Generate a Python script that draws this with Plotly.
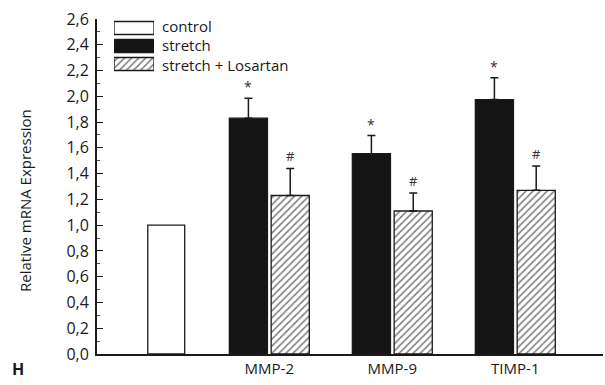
import plotly.graph_objects as go

# Relative mRNA expression data
genes = ["MMP-2", "MMP-9", "TIMP-1"]
gene_pos = [1, 2, 3]
control_pos = [0.162]
control_val = [1.0]
stretch_val = [1.83, 1.555, 1.975]
stretch_err = [0.155, 0.14, 0.17]
losartan_val = [1.23, 1.11, 1.27]
losartan_err = [0.21, 0.14, 0.19]
legend_names = ["control", "stretch", "stretch + Losartan"]
y_ticks = [0.0, 0.2, 0.4, 0.6, 0.8, 1.0, 1.2, 1.4, 1.6, 1.8, 2.0, 2.2, 2.4, 2.6]

FONT = "Open Sans"
BAR_W = 0.31
LINE = dict(color="#1a1a1a", width=1.3)
HATCH = dict(shape="/", fgcolor="#000000", bgcolor="white", size=5, solidity=0.32)
ERR = dict(type="data", symmetric=False, thickness=1.5, width=4, color="#1a1a1a")

fig = go.Figure()

fig.add_trace(go.Bar(
    x=control_pos, y=control_val, width=0.30,
    marker=dict(color="white", line=LINE), showlegend=False,
))
fig.add_trace(go.Bar(
    x=gene_pos, y=stretch_val, width=BAR_W, offset=-0.325,
    marker=dict(color="#141414", line=LINE), showlegend=False,
    error_y=dict(array=stretch_err, arrayminus=[0] * 3, **ERR),
))
fig.add_trace(go.Bar(
    x=gene_pos, y=losartan_val, width=BAR_W, offset=0.015,
    marker=dict(color="white", line=LINE, pattern=HATCH), showlegend=False,
    error_y=dict(array=losartan_err, arrayminus=[0] * 3, **ERR),
))

# significance markers above error bars
for i, g in enumerate(gene_pos):
    fig.add_annotation(x=g - 0.325 + BAR_W / 2, y=stretch_val[i] + stretch_err[i],
                       text="*", showarrow=False, yanchor="bottom", yshift=0,
                       font=dict(family=FONT, size=14, color="#333"))
    fig.add_annotation(x=g + 0.015 + BAR_W / 2, y=losartan_val[i] + losartan_err[i],
                       text="#", showarrow=False, yanchor="bottom", yshift=1,
                       font=dict(family=FONT, size=13, color="#333"))

# legend swatches drawn on an inset axis
for i, (name, fill, patt) in enumerate(zip(legend_names,
                                           ["white", "#141414", "white"],
                                           [None, None, HATCH])):
    marker = dict(color=fill, line=LINE)
    if patt:
        marker["pattern"] = patt
    fig.add_trace(go.Bar(
        y=[i], x=[1], base=0, orientation="h", width=0.72, xaxis="x2", yaxis="y2",
        marker=marker, showlegend=False,
    ))

legend_y = [0.979, 0.922, 0.863]
for name, ly in zip(legend_names, legend_y):
    fig.add_annotation(x=(160 - 97) / 506, y=ly, xref="paper", yref="paper",
                       text=name, showarrow=False, xanchor="left", yanchor="middle",
                       font=dict(family=FONT, size=15, color="#1a1a1a"))

# y-axis title
fig.add_annotation(x=(25 - 97) / 506, y=(354 - 201) / 335, xref="paper", yref="paper",
                   text="Relative mRNA Expression", textangle=-90, showarrow=False,
                   xanchor="center", yanchor="middle",
                   font=dict(family=FONT, size=15, color="#1a1a1a"))

# panel letter
fig.add_annotation(x=-0.172, y=0.0, xref="paper", yref="paper", text="<b>H</b>",
                   showarrow=False, xanchor="left", yanchor="top", yshift=-2,
                   font=dict(family=FONT, size=16, color="#1a1a1a"))

fig.update_layout(
    width=605, height=385,
    margin=dict(l=97, r=2, t=19, b=31),
    paper_bgcolor="white", plot_bgcolor="white",
    barmode="overlay", separators=",.",
    font=dict(family=FONT, color="#1a1a1a"),
    xaxis=dict(
        range=[-0.401, 3.713], tickvals=gene_pos, ticktext=genes,
        ticks="", showgrid=False, zeroline=False,
        showline=True, linecolor="#1a1a1a", linewidth=1.5,
        tickfont=dict(size=15, family=FONT, color="#1a1a1a"),
    ),
    yaxis=dict(
        range=[0, 2.6], tickvals=y_ticks, tickformat=".1f",
        ticks="inside", ticklen=6, tickwidth=1.2, tickcolor="#1a1a1a",
        minor=dict(dtick=0.1, ticks="inside", ticklen=3, tickcolor="#555", tickwidth=1),
        showgrid=False, zeroline=False,
        showline=True, linecolor="#1a1a1a", linewidth=1.8,
        tickfont=dict(size=16, family=FONT, color="#1a1a1a"),
        ticklabelstandoff=3,
    ),
    xaxis2=dict(domain=[(114 - 97) / 506, (154 - 97) / 506], range=[0, 1],
                visible=False, fixedrange=True),
    yaxis2=dict(domain=[(354 - 73) / 335, 1.0], range=[2.5, -0.5],
                anchor="x2", visible=False, fixedrange=True),
)

fig.write_html("out.html")
